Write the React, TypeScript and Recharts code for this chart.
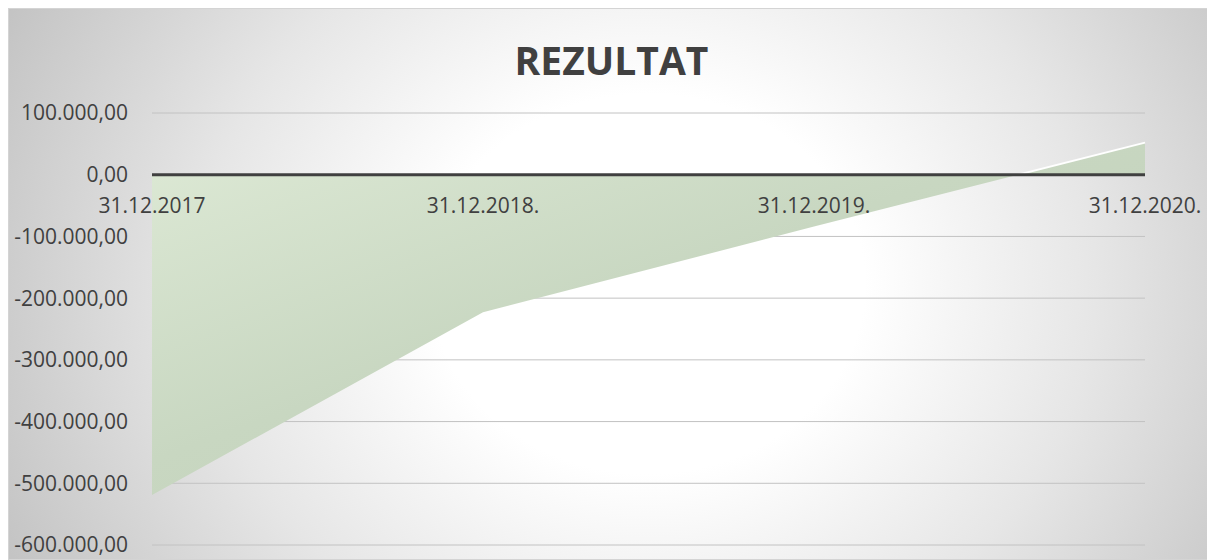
import { AreaChart, Area, XAxis, YAxis, CartesianGrid, ReferenceLine, ReferenceDot } from 'recharts';

const categories = ['31.12.2017', '31.12.2018.', '31.12.2019.', '31.12.2020.'];
const rezultat = [-519000, -223000, -84000, 52000];
const yTicks = [-600000, -500000, -400000, -300000, -200000, -100000, 0, 100000];

const chartData = categories.map((name, i) => ({ name, value: rezultat[i] }));

// the white edge only shows where the area is above zero
const maxV = Math.max(...rezultat);
const minV = Math.min(...rezultat);
const zeroStop = maxV > 0 ? maxV / (maxV - minV) : 0;

function formatAmount(v: number) {
  const sign = v < 0 ? '-' : '';
  const abs = Math.abs(Math.round(v));
  const intPart = String(abs).replace(/\B(?=(\d{3})+(?!\d))/g, '.');
  return `${sign}${intPart},00`;
}

const FONT = '"Open Sans", sans-serif';
const TEXT = '#404040';

export default function App() {
  return (
    <div
      style={{
        position: 'relative',
        width: 1205,
        height: 550,
        border: '1px solid #d4d4d4',
        background:
          'radial-gradient(ellipse 60% 115% at 53% 50%, #ffffff 0%, #ffffff 30%, #e6e6e6 62%, #c2c2c2 100%)',
        fontFamily: FONT,
      }}
    >
      <div
        style={{
          position: 'absolute',
          top: 31,
          left: 0,
          width: '100%',
          textAlign: 'center',
          fontSize: 39,
          lineHeight: 1,
          fontWeight: 700,
          color: TEXT,
        }}
      >
        REZULTAT
      </div>
      <AreaChart
        width={1205}
        height={550}
        data={chartData}
        margin={{ top: 104, right: 69, bottom: 14, left: 0 }}
        style={{ position: 'absolute', top: 0, left: 0 }}
      >
        <defs>
          <linearGradient id="areaFill" x1="0" y1="0" x2="1" y2="1">
            <stop offset="0%" stopColor="#dde9d5" />
            <stop offset="45%" stopColor="#c8d7c1" />
            <stop offset="100%" stopColor="#c0cfb8" />
          </linearGradient>
          <linearGradient id="edgeStroke" x1="0" y1="0" x2="0" y2="1">
            <stop offset="0%" stopColor="#ffffff" stopOpacity={1} />
            <stop offset={zeroStop} stopColor="#ffffff" stopOpacity={1} />
            <stop offset={zeroStop} stopColor="#ffffff" stopOpacity={0} />
            <stop offset="100%" stopColor="#ffffff" stopOpacity={0} />
          </linearGradient>
        </defs>
        <CartesianGrid vertical={false} stroke="#c2c2c2" strokeWidth={1} />
        <XAxis dataKey="name" hide />
        <YAxis
          width={143}
          domain={[-600000, 100000]}
          ticks={yTicks}
          tickFormatter={formatAmount}
          axisLine={false}
          tickLine={false}
          tickSize={0}
          tickMargin={24}
          tick={{ fill: TEXT, fontSize: 21, fontFamily: FONT }}
        />
        <Area
          type="linear"
          dataKey="value"
          fill="url(#areaFill)"
          fillOpacity={1}
          stroke="url(#edgeStroke)"
          strokeWidth={2}
          isAnimationActive={false}
        />
        <ReferenceLine y={0} stroke="#404040" strokeWidth={3} />
        {categories.map((c) => (
          <ReferenceDot
            key={c}
            x={c}
            y={0}
            r={0}
            fill="none"
            stroke="none"
            label={{ value: c, position: 'bottom', offset: 23, fill: TEXT, fontSize: 21, fontFamily: FONT }}
          />
        ))}
      </AreaChart>
    </div>
  );
}
